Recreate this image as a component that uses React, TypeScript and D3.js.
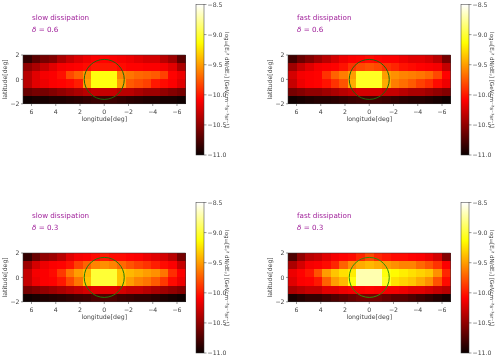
import React from "react";
import * as d3 from "d3";

const slow06 = [
  [-10.85,-10.7,-10.6,-10.55,-10.4,-10.3,-10.22,-10.15,-10.1,-10.08,-10.1,-10.12,-10.15,-10.2,-10.25,-10.25,-10.35,-10.45,-10.7],
  [-10.5,-10.4,-10.3,-10.2,-10.12,-10.1,-10.08,-10.05,-10.0,-10.0,-10.0,-10.05,-10.08,-10.08,-10.1,-10.1,-10.12,-10.2,-10.4],
  [-10.35,-10.2,-10.12,-10.1,-10.03,-9.82,-9.72,-9.55,-9.1,-9.1,-9.1,-9.6,-9.65,-9.7,-9.72,-9.75,-9.85,-10.08,-10.15],
  [-10.35,-10.2,-10.15,-10.1,-10.08,-10.05,-9.98,-9.5,-9.1,-9.1,-9.1,-9.5,-9.75,-9.8,-9.85,-10.0,-10.05,-10.1,-10.2],
  [-10.65,-10.6,-10.6,-10.55,-10.5,-10.45,-10.4,-10.35,-10.3,-10.3,-10.3,-10.35,-10.35,-10.4,-10.45,-10.45,-10.5,-10.55,-10.6],
  [-10.98,-10.95,-10.95,-10.92,-10.92,-10.9,-10.88,-10.85,-10.82,-10.82,-10.82,-10.85,-10.88,-10.9,-10.92,-10.92,-10.95,-10.95,-10.98],
];
const fast06 = [
  [-10.8,-10.65,-10.55,-10.45,-10.35,-10.25,-10.15,-10.1,-10.08,-10.05,-10.08,-10.1,-10.1,-10.15,-10.2,-10.2,-10.25,-10.35,-10.6],
  [-10.45,-10.3,-10.2,-10.12,-10.1,-10.08,-10.02,-9.9,-9.82,-9.78,-9.82,-9.9,-9.95,-10.02,-10.05,-10.08,-10.1,-10.12,-10.3],
  [-10.25,-10.12,-10.1,-10.08,-9.9,-9.72,-9.62,-9.5,-9.05,-9.05,-9.05,-9.5,-9.55,-9.6,-9.62,-9.65,-9.7,-9.82,-10.08],
  [-10.3,-10.15,-10.1,-10.08,-10.02,-9.9,-9.78,-9.45,-9.05,-9.05,-9.05,-9.45,-9.62,-9.68,-9.75,-9.85,-9.92,-10.05,-10.15],
  [-10.6,-10.55,-10.5,-10.5,-10.45,-10.4,-10.35,-10.3,-10.25,-10.25,-10.25,-10.3,-10.3,-10.35,-10.4,-10.4,-10.45,-10.5,-10.55],
  [-10.98,-10.95,-10.92,-10.9,-10.9,-10.88,-10.85,-10.82,-10.8,-10.8,-10.8,-10.82,-10.85,-10.88,-10.9,-10.9,-10.92,-10.95,-10.98],
];
const slow03 = [
  [-10.85,-10.65,-10.5,-10.45,-10.35,-10.2,-10.12,-10.1,-10.05,-10.0,-10.05,-10.05,-10.08,-10.1,-10.15,-10.2,-10.25,-10.35,-10.6],
  [-10.45,-10.25,-10.15,-10.1,-10.08,-10.02,-9.85,-9.72,-9.6,-9.55,-9.6,-9.7,-9.78,-9.85,-9.9,-9.98,-10.05,-10.1,-10.3],
  [-10.3,-10.12,-10.1,-10.05,-9.88,-9.65,-9.5,-9.4,-9.0,-9.0,-9.0,-9.35,-9.4,-9.45,-9.5,-9.55,-9.65,-9.92,-10.1],
  [-10.3,-10.15,-10.1,-10.08,-10.0,-9.82,-9.65,-9.35,-9.0,-9.0,-9.0,-9.35,-9.5,-9.6,-9.65,-9.75,-9.88,-10.05,-10.15],
  [-10.6,-10.55,-10.5,-10.45,-10.4,-10.35,-10.3,-10.25,-10.2,-10.2,-10.2,-10.25,-10.3,-10.3,-10.35,-10.4,-10.45,-10.5,-10.55],
  [-10.98,-10.95,-10.92,-10.9,-10.88,-10.85,-10.82,-10.8,-10.75,-10.75,-10.75,-10.8,-10.82,-10.85,-10.85,-10.88,-10.92,-10.95,-10.98],
];
const fast03 = [
  [-10.75,-10.5,-10.35,-10.3,-10.2,-10.12,-10.08,-10.05,-9.95,-9.82,-9.95,-10.0,-10.05,-10.05,-10.08,-10.1,-10.15,-10.25,-10.55],
  [-10.4,-10.25,-10.12,-10.1,-10.05,-9.95,-9.72,-9.55,-9.45,-9.4,-9.45,-9.5,-9.55,-9.6,-9.6,-9.7,-9.78,-9.9,-10.1],
  [-10.15,-10.08,-10.0,-9.78,-9.5,-9.35,-9.25,-9.2,-8.7,-8.7,-8.7,-9.1,-9.15,-9.2,-9.25,-9.3,-9.35,-9.55,-9.95],
  [-10.2,-10.1,-10.08,-10.0,-9.72,-9.5,-9.4,-9.1,-8.7,-8.7,-8.7,-9.05,-9.25,-9.3,-9.35,-9.45,-9.55,-9.78,-10.05],
  [-10.4,-10.35,-10.3,-10.3,-10.2,-10.2,-10.15,-10.12,-10.1,-10.08,-10.1,-10.12,-10.12,-10.15,-10.2,-10.2,-10.25,-10.3,-10.35],
  [-10.95,-10.9,-10.85,-10.85,-10.8,-10.75,-10.7,-10.65,-10.6,-10.6,-10.6,-10.65,-10.7,-10.7,-10.75,-10.8,-10.85,-10.9,-10.95],
];

const lonTicks = [6,4,2,0,-2,-4,-6];
const latTicks = [-2,0,2];
const cbTicks = [-8.5,-9,-9.5,-10,-10.5,-11];
const cbStops = [0,0.365,0.746,1];
const cbColors = ["#0b0000","#ff0000","#ffff00","#ffffff"];
const titles = ["slow dissipation","fast dissipation","slow dissipation","fast dissipation"];
const deltas = ["0.6","0.6","0.3","0.3"];
const grids = [slow06,fast06,slow03,fast03];
const origins: [number,number][] = [[0,0],[265,0],[0,198],[265,198]];
const ringColors = ["#1f660a","#1f660a","#207a0a","#2f8f0a"];

const x = d3.scaleLinear().domain([6.7,-6.7]).range([23,185.5]);
const y = d3.scaleLinear().domain([-2,2]).range([103.8,55]);
const col = d3.scaleBand<number>().domain(d3.range(19)).range([23,185.5]);
const row = d3.scaleBand<number>().domain(d3.range(6)).range([55,103.8]);
const cbY = d3.scaleLinear().domain([-11,-8.5]).range([155,4.5]);
const norm = d3.scaleLinear().domain([-11,-8.5]).range([0,1]).clamp(true);
const hot = d3.scaleLinear<string>().domain(cbStops).range(cbColors).interpolate(d3.interpolateRgb);
const color = (v:number)=>hot(norm(v));
const cbPixels = d3.range(4,155);
const tc = "#444";
const font = "'DejaVu Sans', sans-serif";
const R = Math.round;

function Panel({i}:{i:number}){
  const [ox,oy]=origins[i];
  const r = x(0)-x(1.65);
  return <g transform={`translate(${ox},${oy})`} fontFamily={font}>
    <text x={32} y={19.5} fontSize={7.2} fill="#a0209a">{titles[i]}</text>
    <text x={32} y={32} fontSize={7.2} fill="#a0209a"><tspan fontStyle="italic">δ</tspan> = {deltas[i]}</text>
    <g shapeRendering="crispEdges">
    {grids[i].map((vals,ri)=>vals.map((v,ci)=>{
      const x0=R(col(ci)!),x1=R(col(ci)!+col.bandwidth());
      const y0=R(row(ri)!),y1=R(row(ri)!+row.bandwidth());
      return <rect key={ri+"-"+ci} x={x0} y={y0} width={x1-x0} height={y1-y0} fill={color(v)}/>;
    }))}
    {cbPixels.map(p=><rect key={p} x={196} y={p} width={8} height={1} fill={color(cbY.invert(p+0.5))}/>)}
    </g>
    <circle cx={x(0)} cy={y(0)} r={r} fill="none" stroke={ringColors[i]} strokeWidth={1}/>
    <rect x={23} y={55} width={162.5} height={48.8} fill="none" stroke="#333" strokeWidth={0.5}/>
    {lonTicks.map(t=><g key={t}>
      <line x1={x(t)} x2={x(t)} y1={103.8} y2={106} stroke="#333" strokeWidth={0.5}/>
      <text x={x(t)} y={114} fontSize={6.2} fill={tc} textAnchor="middle">{t<0?"−"+(-t):t}</text>
    </g>)}
    {latTicks.map(t=><g key={t}>
      <line x1={21} x2={23} y1={y(t)} y2={y(t)} stroke="#333" strokeWidth={0.5}/>
      <text x={19.5} y={y(t)+2.2} fontSize={6.2} fill={tc} textAnchor="end">{t<0?"−"+(-t):t}</text>
    </g>)}
    <text x={x(0)} y={120.5} fontSize={6.2} fill={tc} textAnchor="middle">longitude[deg]</text>
    <text transform={`translate(7,${y(0)}) rotate(-90)`} fontSize={6.2} fill={tc} textAnchor="middle">latitude[deg]</text>
    <rect x={196} y={4.5} width={8} height={150.5} fill="none" stroke="#333" strokeWidth={0.5}/>
    {cbTicks.map(t=><g key={t}>
      <line x1={204} x2={206.5} y1={cbY(t)} y2={cbY(t)} stroke="#333" strokeWidth={0.5}/>
      <text x={207.5} y={cbY(t)+2.2} fontSize={6.2} fill={tc}>{"−"+(-t).toFixed(1)}</text>
    </g>)}
    <text transform={`translate(224.5,80) rotate(90)`} fontSize={5.6} fill={tc} textAnchor="middle">log₁₀[Eᵧ² dN/dEᵧ] [GeVcm⁻²s⁻¹sr⁻¹]</text>
  </g>;
}

export default function App(){
  return <svg width={500} height={359} style={{position:"absolute",left:0,top:0,background:"#fff"}}>
    <defs><filter id="soft" x="0" y="0" width="100%" height="100%" colorInterpolationFilters="sRGB"><feGaussianBlur stdDeviation="0.35"/></filter></defs>
    <g filter="url(#soft)">
      <rect width={500} height={359} fill="#fff"/>
      {origins.map((_,i)=><Panel key={i} i={i}/>)}
    </g>
  </svg>;
}
